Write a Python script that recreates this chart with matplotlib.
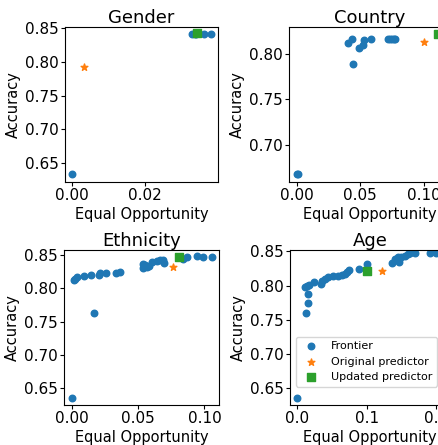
"""Plot accuracy vs equal opportunity frontiers for four protected attributes."""

import matplotlib

matplotlib.use("Agg")
import matplotlib.pyplot as plt

# Gender
gender_frontier_eo = [0.0, 0.0330, 0.0336, 0.0341, 0.0362, 0.0382]
gender_frontier_acc = [0.6346, 0.8420, 0.8421, 0.8422, 0.8420, 0.8421]
gender_original = (0.0032, 0.7933)
gender_updated = (0.0343, 0.8427)

# Country
country_frontier_eo = [
    0.0, 0.0008, 0.0401, 0.0437, 0.0443, 0.0490, 0.0525, 0.0527,
    0.0586, 0.0720, 0.0735, 0.0750, 0.0765, 0.0775,
]
country_frontier_acc = [
    0.6674, 0.6674, 0.8119, 0.8163, 0.7886, 0.8070, 0.8105, 0.8150,
    0.8167, 0.8167, 0.8167, 0.8167, 0.8167, 0.8167,
]
country_original = (0.1003, 0.8133)
country_updated = (0.1115, 0.8221)

# Ethnicity
ethnicity_frontier_eo = [
    0.0, 0.0168, 0.0018, 0.0028, 0.0043, 0.0093, 0.0143, 0.0204,
    0.0214, 0.0259, 0.0334, 0.0364, 0.0535, 0.0540, 0.0565, 0.0603,
    0.0640, 0.0666, 0.0690, 0.0696, 0.0842, 0.0867, 0.0942, 0.0992,
    0.1055, 0.0580, 0.0550,
]
ethnicity_frontier_acc = [
    0.6353, 0.7630, 0.8120, 0.8140, 0.8160, 0.8180, 0.8196, 0.8190,
    0.8220, 0.8232, 0.8232, 0.8242, 0.8308, 0.8363, 0.8323, 0.8384,
    0.8404, 0.8414, 0.8414, 0.8373, 0.8440, 0.8465, 0.8475, 0.8465,
    0.8465, 0.8330, 0.8350,
]
ethnicity_original = (0.0761, 0.8318)
ethnicity_updated = (0.0807, 0.8460)

# Age
age_frontier_eo = [
    0.0, 0.0125, 0.0163, 0.0163, 0.0115, 0.0144, 0.0173, 0.0245,
    0.0346, 0.0351, 0.0400, 0.0447, 0.0520, 0.0590, 0.0640, 0.0688,
    0.0712, 0.0740, 0.0894, 0.1005, 0.1365, 0.1400, 0.1418, 0.1447,
    0.1470, 0.1495, 0.1543, 0.1590, 0.1615, 0.1690, 0.1910, 0.2000,
]
age_frontier_acc = [
    0.6354, 0.7598, 0.7750, 0.7870, 0.7976, 0.7996, 0.8010, 0.8047,
    0.8026, 0.8060, 0.8097, 0.8127, 0.8142, 0.8142, 0.8152, 0.8172,
    0.8198, 0.8228, 0.8248, 0.8309, 0.8329, 0.8394, 0.8370, 0.8420,
    0.8344, 0.8420, 0.8435, 0.8455, 0.8470, 0.8470, 0.8470, 0.8470,
]
age_original = (0.1226, 0.8213)
age_updated = (0.1000, 0.8208)

FRONTIER_COLOR = "#1f77b4"
ORIGINAL_COLOR = "#ff7f0e"
UPDATED_COLOR = "#2ca02c"


def plot_panel(ax, title, frontier_eo, frontier_acc, original, updated,
               xlim, ylim, xticks, yticks):
    """Draw one attribute's frontier with the two predictors"""
    ax.scatter(frontier_eo, frontier_acc, s=22, color=FRONTIER_COLOR,
               label="Frontier")
    ax.scatter([original[0]], [original[1]], s=26, marker="*",
               color=ORIGINAL_COLOR, label="Original predictor")
    ax.scatter([updated[0]], [updated[1]], s=26, marker="s",
               color=UPDATED_COLOR, label="Updated predictor")
    ax.set_xlim(*xlim)
    ax.set_ylim(*ylim)
    ax.set_xticks(xticks)
    ax.set_yticks(yticks)
    ax.tick_params(labelsize=11, length=3, pad=1.5)
    ax.set_title(title, fontsize=13, pad=3)
    ax.set_xlabel("Equal Opportunity", fontsize=10.5, labelpad=3)
    ax.set_ylabel("Accuracy", fontsize=10.5, labelpad=3)


def main():
    fig = plt.figure(figsize=(4.39, 4.45), dpi=100)

    ax_gender = fig.add_axes([0.1481, 0.5917, 0.3492, 0.347])
    ax_country = fig.add_axes([0.659, 0.5917, 0.3667, 0.347])
    ax_ethnicity = fig.add_axes([0.1465, 0.0906, 0.3524, 0.347])
    ax_age = fig.add_axes([0.66, 0.0906, 0.3667, 0.347])

    plot_panel(ax_gender, "Gender", gender_frontier_eo, gender_frontier_acc,
               gender_original, gender_updated,
               xlim=(-0.0019, 0.0401), ylim=(0.6226, 0.8515),
               xticks=[0.0, 0.02], yticks=[0.65, 0.70, 0.75, 0.80, 0.85])
    plot_panel(ax_country, "Country", country_frontier_eo, country_frontier_acc,
               country_original, country_updated,
               xlim=(-0.0058, 0.121), ylim=(0.6594, 0.8295),
               xticks=[0.0, 0.05, 0.10], yticks=[0.70, 0.75, 0.80])
    plot_panel(ax_ethnicity, "Ethnicity", ethnicity_frontier_eo,
               ethnicity_frontier_acc, ethnicity_original, ethnicity_updated,
               xlim=(-0.0055, 0.111), ylim=(0.6257, 0.8566),
               xticks=[0.0, 0.05, 0.10], yticks=[0.65, 0.70, 0.75, 0.80, 0.85])
    plot_panel(ax_age, "Age", age_frontier_eo, age_frontier_acc,
               age_original, age_updated,
               xlim=(-0.0106, 0.2206), ylim=(0.6258, 0.8515),
               xticks=[0.0, 0.1, 0.2], yticks=[0.65, 0.70, 0.75, 0.80, 0.85])

    ax_age.legend(loc="lower left", bbox_to_anchor=(0.037, 0.117),
                  borderaxespad=0, fontsize=8)

    fig.savefig("out.png", dpi=100)
    plt.close(fig)


if __name__ == "__main__":
    main()
